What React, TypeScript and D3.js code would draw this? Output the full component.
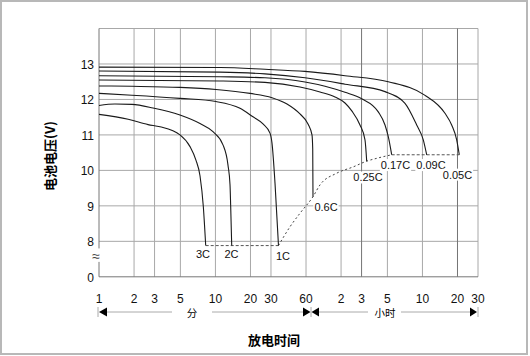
import React from 'react';
import * as d3 from 'd3';

// ---- data (time in minutes, voltage in V) ----
const yTicks = [8, 9, 10, 11, 12, 13];
const xTicks = [1, 2, 3, 5, 10, 20, 30, 60, 120, 180, 300, 600, 1200, 1800];
const xTickLabels = ['1', '2', '3', '5', '10', '20', '30', '60', '2', '3', '5', '10', '20', '30'];
const darkGridTicks = [180, 1200];

const rateNames = ['3C', '2C', '1C', '0.6C', '0.25C', '0.17C', '0.09C', '0.05C'];

const curve3C = [[1, 11.58], [1.78, 11.44], [2.64, 11.29], [3.34, 11.23], [4.96, 11.0], [6.05, 10.67], [6.8, 10.29], [7.37, 9.85], [7.87, 8.98], [8.25, 7.88]];
const curve2C = [[1, 11.83], [1.37, 11.87], [1.92, 11.86], [2.91, 11.76], [4.96, 11.56], [7.37, 11.32], [9.53, 11.09], [11.61, 10.72], [12.82, 10.15], [13.34, 9.6], [13.52, 9.0], [13.8, 7.88]];
const curve1C = [[1, 12.17], [1.92, 12.12], [4.96, 12.03], [10.11, 11.94], [16.26, 11.75], [21.02, 11.51], [25.62, 11.31], [29.42, 11.05], [30.61, 10.77], [32.49, 9.64], [34.8, 7.88]];
const curve06C = [[1, 12.38], [1.92, 12.37], [4.96, 12.34], [10.11, 12.28], [19.82, 12.17], [30.61, 12.05], [41.18, 11.87], [53.23, 11.59], [62.4, 11.31], [67.52, 11.0], [68.5, 10.6], [68.87, 9.26]];
const curve025C = [[1, 12.55], [10.94, 12.52], [26.65, 12.48], [53.23, 12.35], [79.09, 12.21], [106.4, 12.07], [129.7, 11.9], [148.9, 11.67], [174.4, 11.28], [192.6, 10.86], [199.2, 10.26]];
const curve017C = [[1, 12.67], [10.94, 12.64], [26.65, 12.61], [58.79, 12.49], [87.33, 12.37], [129.7, 12.2], [180.4, 12.02], [250.5, 11.65], [286.1, 11.28], [305.3, 10.95], [326.5, 10.44]];
const curve009C = [[1, 12.8], [10.94, 12.77], [26.65, 12.72], [58.79, 12.61], [129.7, 12.43], [286.1, 12.22], [424.8, 11.89], [535.3, 11.28], [610, 10.86], [652.4, 10.44]];
const curve005C = [[1, 12.91], [10.94, 12.9], [26.65, 12.85], [58.79, 12.79], [129.7, 12.67], [305.3, 12.5], [622.2, 12.13], [936.9, 11.61], [1069.5, 11.28], [1180.8, 10.86], [1243, 10.44]];

const cutoffLow = [[8.25, 7.88], [34.8, 7.88]];
const cutoffHigh = [[326.5, 10.44], [1243, 10.44]];
const cutoffCurve = [[34.8, 7.88], [43.7, 8.41], [53.2, 8.79], [68.9, 9.26], [79.1, 9.59], [110, 9.92], [152.9, 10.1], [199.2, 10.26], [242.7, 10.34], [326.5, 10.44]];

// label anchors (time, voltage)
const labelT = [7.82, 13.74, 38.05, 89.07, 204.3, 352.1, 710.6, 1200];
const labelV = [7.64, 7.64, 7.59, 8.97, 9.8, 10.15, 10.15, 9.88];

const curves = [curve3C, curve2C, curve1C, curve06C, curve025C, curve017C, curve009C, curve005C];

const FONT = "'Liberation Sans', Arial, sans-serif";
const CJK = "'Noto Sans CJK SC', sans-serif";

function textWidth(s: string, size: number) {
  let w = 0;
  for (const ch of s) {
    if (ch === '.') w += 0.278;
    else if (ch === 'C') w += 0.722;
    else w += 0.556;
  }
  return w * size;
}

export default function App() {
  const x = d3.scaleLog().domain([1, 1800]).range([99, 478]);
  const y = d3.scaleLinear().domain([7, 14]).range([276.8, 28.5]);
  const line = d3.line<number[]>().x(d => x(d[0])).y(d => y(d[1])).curve(d3.curveMonotoneX);
  const straight = d3.line<number[]>().x(d => x(d[0])).y(d => y(d[1]));

  const x0 = x(1), x1 = x(1800);
  const yTop = y(14), yBot = y(7);
  const arrowY = 312;
  const mid = x(60) + 5;

  return (
    <svg width={530} height={356} style={{ position: 'absolute', left: 0, top: 0, background: '#fff' }} fontFamily={FONT}>
      <rect x={1} y={1} width={526} height={353} fill="#fff" stroke="#b8b8b8" strokeWidth={2} />

      {/* grid */}
      {yTicks.map(v => (
        <line key={'h' + v} x1={x0} x2={x1} y1={y(v)} y2={y(v)} stroke="#a8a8a8" strokeWidth={1} />
      ))}
      <line x1={x0} x2={x1} y1={yTop} y2={yTop} stroke="#a8a8a8" strokeWidth={1} />
      {xTicks.slice(1).map(t => (
        <line key={'v' + t} x1={x(t)} x2={x(t)} y1={yTop} y2={yBot}
          stroke={darkGridTicks.includes(t) ? '#757575' : '#a8a8a8'} strokeWidth={1} />
      ))}
      {/* axes */}
      <line x1={x0} x2={x1} y1={yBot} y2={yBot} stroke="#777" strokeWidth={1} />
      <line x1={x0} x2={x0} y1={yTop} y2={y(7.8)} stroke="#777" strokeWidth={1} />
      <line x1={x0} x2={x0} y1={y(7.42)} y2={yBot} stroke="#777" strokeWidth={1} />
      <text x={x0 - 3} y={y(7.6)} fontSize={14} textAnchor="middle" dominantBaseline="central" fill="#444">≈</text>

      {/* cutoff lines */}
      <path d={straight(cutoffLow) || ''} fill="none" stroke="#555" strokeWidth={1} strokeDasharray="3,2" />
      <path d={straight(cutoffHigh) || ''} fill="none" stroke="#555" strokeWidth={1} strokeDasharray="3,2" />
      <path d={line(cutoffCurve) || ''} fill="none" stroke="#444" strokeWidth={1} strokeDasharray="2,2.5" />

      {/* curves */}
      {curves.map((c, i) => (
        <path key={'c' + i} d={line(c) || ''} fill="none" stroke="#1a1a1a" strokeWidth={1.1} />
      ))}

      {/* curve labels */}
      {rateNames.map((n, i) => {
        const w = textWidth(n, 11);
        const cx = x(labelT[i]), cy = y(labelV[i]);
        return (
          <g key={'l' + n}>
            <rect x={cx - w / 2 - 1} y={cy - 6} width={w + 2} height={12} fill="#fff" />
            <text x={cx} y={cy} fontSize={11} textAnchor="middle" dominantBaseline="central" fill="#111">{n}</text>
          </g>
        );
      })}

      {/* y tick labels */}
      {yTicks.map(v => (
        <text key={'yt' + v} x={94} y={y(v) + 1} fontSize={12} textAnchor="end" dominantBaseline="central" fill="#111">{v}</text>
      ))}
      <text x={94} y={yBot + 1} fontSize={12} textAnchor="end" dominantBaseline="central" fill="#111">0</text>

      {/* x tick labels */}
      {xTicks.map((t, i) => (
        <text key={'xt' + i} x={x(t)} y={299} fontSize={12} textAnchor="middle" dominantBaseline="central" fill="#111">{xTickLabels[i]}</text>
      ))}

      {/* unit arrows */}
      <g stroke="#aaa" strokeWidth={1}>
        <line x1={x0 + 8} x2={172} y1={arrowY} y2={arrowY} />
        <line x1={212} x2={mid - 8} y1={arrowY} y2={arrowY} />
        <line x1={mid + 8} x2={368} y1={arrowY} y2={arrowY} />
        <line x1={401} x2={x1 - 8} y1={arrowY} y2={arrowY} />
        <line x1={x0 - 1} x2={x0 - 1} y1={arrowY - 5} y2={arrowY + 5} />
        <line x1={mid} x2={mid} y1={arrowY - 5} y2={arrowY + 5} />
        <line x1={x1} x2={x1} y1={arrowY - 5} y2={arrowY + 5} />
      </g>
      <g fill="#000">
        <path d={`M${x0},${arrowY} L${x0 + 8},${arrowY - 4.5} L${x0 + 8},${arrowY + 4.5} Z`} />
        <path d={`M${mid - 0.5},${arrowY} L${mid - 8},${arrowY - 4.5} L${mid - 8},${arrowY + 4.5} Z`} />
        <path d={`M${mid + 0.5},${arrowY} L${mid + 8},${arrowY - 4.5} L${mid + 8},${arrowY + 4.5} Z`} />
        <path d={`M${x1 - 1},${arrowY} L${x1 - 8},${arrowY - 4.5} L${x1 - 8},${arrowY + 4.5} Z`} />
      </g>
      <text x={192} y={arrowY} fontSize={10.5} fontFamily={CJK} textAnchor="middle" dominantBaseline="central" fill="#000">分</text>
      <text x={385} y={arrowY} fontSize={10.5} fontFamily={CJK} textAnchor="middle" dominantBaseline="central" fill="#000">小时</text>

      {/* titles */}
      <text x={274} y={339} fontSize={13} fontWeight="bold" fontFamily={CJK} textAnchor="middle" dominantBaseline="central" fill="#000">放电时间</text>
      <text transform="translate(49,156) rotate(-90)" fontSize={13} fontWeight="bold" fontFamily={CJK} textAnchor="middle" dominantBaseline="central" fill="#000">电池电压(V)</text>
    </svg>
  );
}
